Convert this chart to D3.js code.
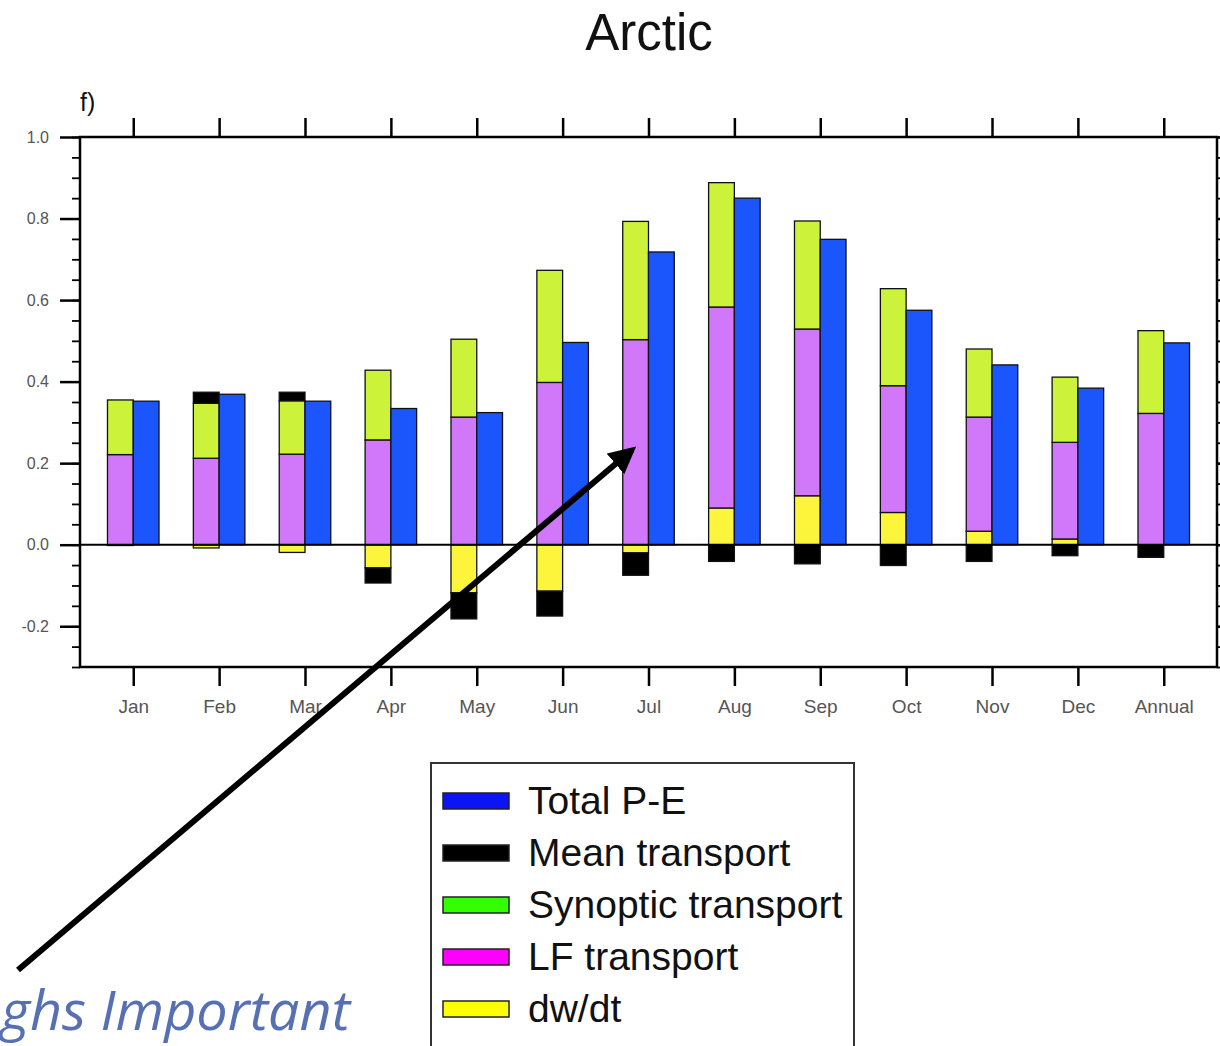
<!DOCTYPE html>
<html>
<head>
<meta charset="utf-8">
<script src="https://cdn.jsdelivr.net/npm/d3@7"></script>
<style>
  body { margin: 0; background: #fff; }
  svg { display: block; }
</style>
</head>
<body>
<svg id="chart" width="1220" height="1046"></svg>
<script>
// values
const months = ['Jan', 'Feb', 'Mar', 'Apr', 'May', 'Jun', 'Jul', 'Aug', 'Sep', 'Oct', 'Nov', 'Dec', 'Annual'];
const totalPE   = [0.352, 0.369, 0.352, 0.334, 0.324, 0.496, 0.718, 0.850, 0.749, 0.575, 0.441, 0.384, 0.495];
const meanTr    = [-0.002, 0.027, 0.021, -0.037, -0.064, -0.061, -0.055, -0.041, -0.047, -0.051, -0.041, -0.027, -0.031];
const synoptic  = [0.134, 0.135, 0.131, 0.171, 0.191, 0.275, 0.290, 0.305, 0.265, 0.238, 0.167, 0.160, 0.203];
const lfTr      = [0.221, 0.212, 0.222, 0.257, 0.313, 0.398, 0.503, 0.493, 0.409, 0.311, 0.280, 0.237, 0.322];
const dwdt      = [0.000, -0.008, -0.019, -0.057, -0.118, -0.114, -0.020, 0.090, 0.120, 0.079, 0.033, 0.014, 0.000];
const yTicks = [-0.2, 0.0, 0.2, 0.4, 0.6, 0.8, 1.0];
const legendItems = ['Total P-E', 'Mean transport', 'Synoptic transport', 'LF transport', 'dw/dt'];

const svg = d3.select('#chart');
const margin = { left: 80, right: 1217, top: 137, bottom: 667 };

const rows = months.map((m, i) => ({
  month: m, idx: i + 1,
  dwdt: dwdt[i], lf: lfTr[i], syn: synoptic[i], mean: meanTr[i], total: totalPE[i]
}));

const x = d3.scaleLinear().domain([0.38, 13.62]).range([margin.left, margin.right]);
const y = d3.scaleLinear().domain([-0.3, 1.0]).range([margin.bottom, margin.top]);
const step = x(2) - x(1);
const barW = step * 0.3;

const stackColors = { dwdt: '#fdf53b', lf: '#d177f9', syn: '#ccf23a', mean: '#000000' };
const stack = d3.stack()
  .keys(['dwdt', 'lf', 'syn', 'mean'])
  .offset(d3.stackOffsetDiverging)(rows);

const g = svg.append('g');

// stacked components, left of each tick
g.selectAll('g.layer')
  .data(stack)
  .join('g')
  .attr('class', 'layer')
  .attr('fill', d => stackColors[d.key])
  .selectAll('rect')
  .data(d => d)
  .join('rect')
  .attr('x', d => x(d.data.idx) - barW)
  .attr('width', barW)
  .attr('y', d => y(Math.max(d[0], d[1])))
  .attr('height', d => Math.abs(y(d[0]) - y(d[1])))
  .attr('stroke', '#111')
  .attr('stroke-width', 1.3);

// total P-E, right of each tick
g.selectAll('rect.total')
  .data(rows)
  .join('rect')
  .attr('class', 'total')
  .attr('x', d => x(d.idx))
  .attr('width', barW)
  .attr('y', d => y(d.total))
  .attr('height', d => y(0) - y(d.total))
  .attr('fill', '#1a56fb')
  .attr('stroke', '#111')
  .attr('stroke-width', 1.3);

// zero line
g.append('line')
  .attr('x1', margin.left).attr('x2', margin.right)
  .attr('y1', y(0)).attr('y2', y(0))
  .attr('stroke', '#000').attr('stroke-width', 2);

// axes
const minor = d3.range(-0.3, 1.0001, 0.05).map(v => +v.toFixed(2));
const tickFont = "'Liberation Sans', Arial, sans-serif";

function styleAxis(sel) {
  sel.select('.domain').remove();
  sel.selectAll('.tick line').attr('stroke', '#000').attr('stroke-width', 2.5);
}

const leftMinor = svg.append('g').attr('transform', `translate(${margin.left},0)`)
  .call(d3.axisLeft(y).tickValues(minor).tickSize(8).tickFormat(''));
styleAxis(leftMinor);
leftMinor.selectAll('.tick line').attr('stroke-width', 1.8);

const leftAxis = svg.append('g').attr('transform', `translate(${margin.left},0)`)
  .call(d3.axisLeft(y).tickValues(yTicks).tickSize(20).tickPadding(11)
    .tickFormat(v => d3.format('.1f')(v).replace('\u2212', '-')));
styleAxis(leftAxis);
leftAxis.selectAll('text')
  .attr('font-family', tickFont)
  .attr('font-size', 16).attr('fill', '#555');

const rightMinor = svg.append('g').attr('transform', `translate(${margin.right},0)`)
  .call(d3.axisRight(y).tickValues(minor).tickSize(8).tickFormat(''));
styleAxis(rightMinor);
rightMinor.selectAll('.tick line').attr('stroke-width', 1.8);
const rightAxis = svg.append('g').attr('transform', `translate(${margin.right},0)`)
  .call(d3.axisRight(y).tickValues(yTicks).tickSize(20).tickFormat(''));
styleAxis(rightAxis);

const idxs = rows.map(d => d.idx);
const bottomAxis = svg.append('g').attr('transform', `translate(0,${margin.bottom})`)
  .call(d3.axisBottom(x).tickValues(idxs).tickSize(19).tickPadding(14).tickFormat(i => months[i - 1]));
styleAxis(bottomAxis);
bottomAxis.selectAll('text')
  .attr('font-family', tickFont)
  .attr('font-size', 19).attr('fill', '#555');

const topAxis = svg.append('g').attr('transform', `translate(0,${margin.top})`)
  .call(d3.axisTop(x).tickValues(idxs).tickSize(19).tickFormat(''));
styleAxis(topAxis);

// frame
svg.append('rect')
  .attr('x', margin.left).attr('y', margin.top)
  .attr('width', margin.right - margin.left)
  .attr('height', margin.bottom - margin.top)
  .attr('fill', 'none').attr('stroke', '#000').attr('stroke-width', 2.5);

// titles
svg.append('text')
  .attr('x', 649).attr('y', 50)
  .attr('text-anchor', 'middle')
  .attr('font-family', "'Liberation Sans', Arial, sans-serif")
  .attr('font-size', 51).attr('fill', '#111')
  .text('Arctic');

svg.append('text')
  .attr('x', 80).attr('y', 111)
  .attr('font-family', "'Liberation Sans', Arial, sans-serif")
  .attr('font-size', 25).attr('fill', '#111')
  .text('f)');

// legend
const legendColors = ['#0a14f5', '#000000', '#33ff00', '#ff00ff', '#ffff00'];
const legend = svg.append('g');
legend.append('rect')
  .attr('x', 431).attr('y', 763)
  .attr('width', 423).attr('height', 320)
  .attr('fill', '#fff').attr('stroke', '#333').attr('stroke-width', 2);

const item = legend.selectAll('g.item')
  .data(legendItems)
  .join('g')
  .attr('class', 'item')
  .attr('transform', (d, i) => `translate(0,${801 + i * 52})`);
item.append('rect')
  .attr('x', 443).attr('y', -8)
  .attr('width', 66).attr('height', 16)
  .attr('fill', (d, i) => legendColors[i])
  .attr('stroke', '#222').attr('stroke-width', 1.5);
item.append('text')
  .attr('x', 528).attr('y', 13)
  .attr('font-family', "'Liberation Sans', Arial, sans-serif")
  .attr('font-size', 39).attr('fill', '#111')
  .text(d => d);

// annotation arrow and text
const defs = svg.append('defs');
defs.append('marker')
  .attr('id', 'head')
  .attr('viewBox', '0 0 10 10')
  .attr('refX', 8).attr('refY', 5)
  .attr('markerWidth', 4.5).attr('markerHeight', 4.5)
  .attr('orient', 'auto')
  .append('path')
  .attr('d', 'M0,0 L10,5 L0,10 Z')
  .attr('fill', '#000');

svg.append('line')
  .attr('x1', 18).attr('y1', 970)
  .attr('x2', 632).attr('y2', 450)
  .attr('stroke', '#000').attr('stroke-width', 6)
  .attr('marker-end', 'url(#head)');

svg.append('text')
  .attr('x', 1).attr('y', 1030)
  .attr('textLength', 349)
  .attr('lengthAdjust', 'spacingAndGlyphs')
  .attr('font-family', "'Open Sans', 'Noto Sans', sans-serif")
  .attr('font-style', 'italic')
  .attr('font-size', 54).attr('fill', '#5670b3')
  .text('ghs Important');
</script>
</body>
</html>
